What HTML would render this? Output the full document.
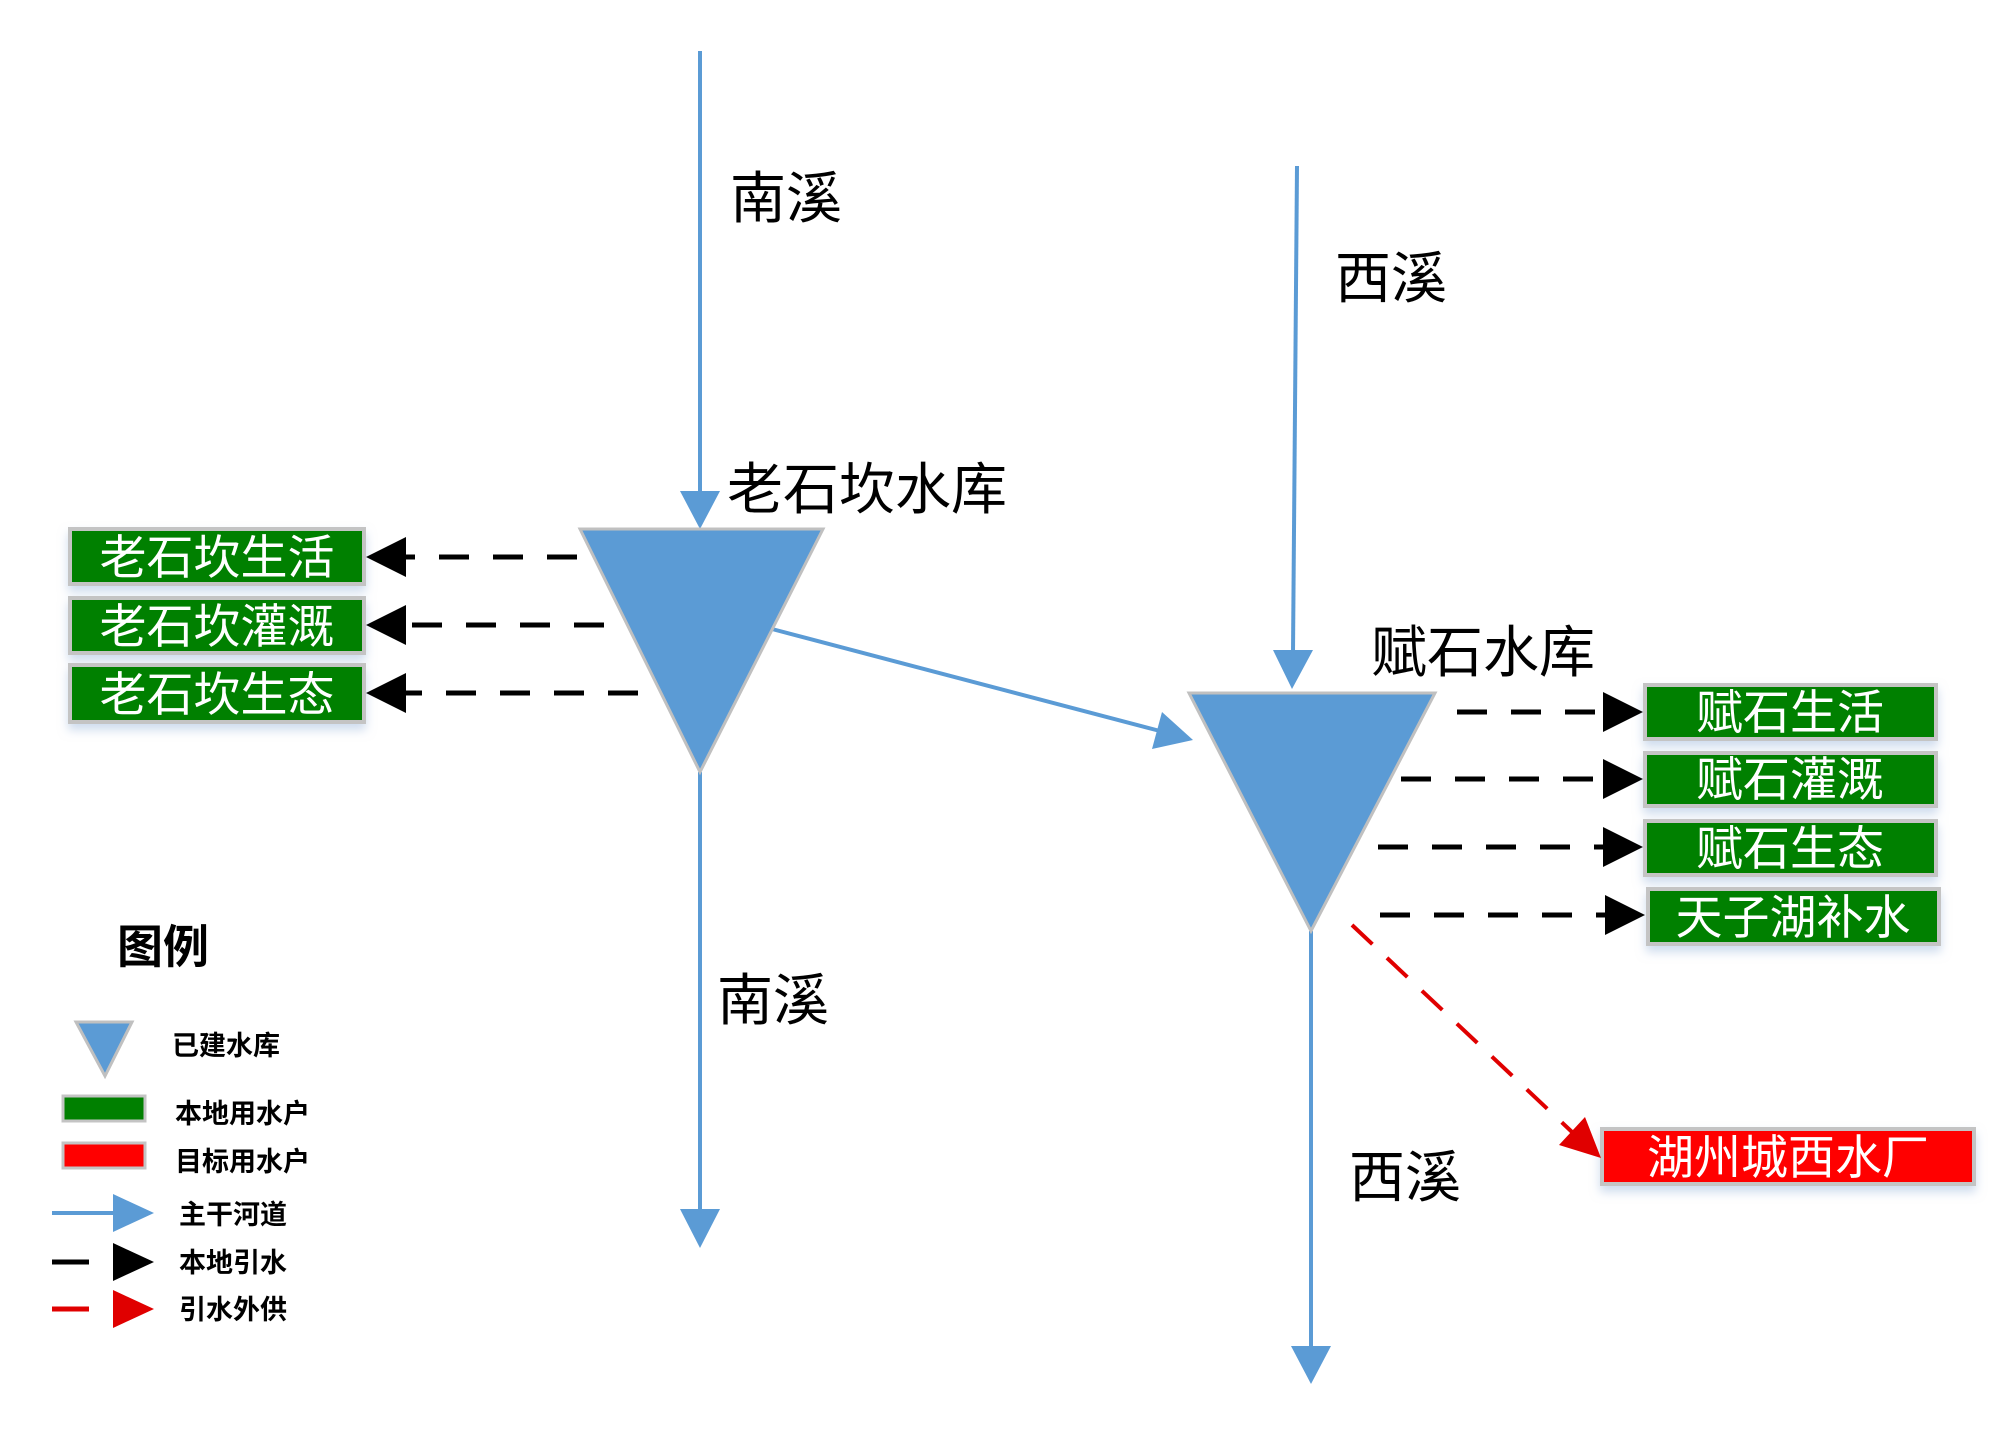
<!DOCTYPE html>
<html><head><meta charset="utf-8"><style>
html,body{margin:0;padding:0;background:#fff;}
svg{display:block;}
text{font-family:"Liberation Sans","Noto Sans CJK SC",sans-serif;}
</style></head><body>
<svg width="2000" height="1440" viewBox="0 0 2000 1440" xmlns="http://www.w3.org/2000/svg">
<defs>
<marker id="ab" viewBox="0 0 10 10" refX="10" refY="5" markerWidth="10" markerHeight="10" markerUnits="userSpaceOnUse" orient="auto"><path d="M0,0 L10,5 L0,10 z" fill="#5b9bd5"/></marker>
<filter id="sh" x="-10%" y="-20%" width="120%" height="160%"><feDropShadow dx="0" dy="6" stdDeviation="5" flood-color="#9db7dc" flood-opacity="0.5"/></filter>
</defs>

<!-- main river lines -->
<g stroke="#5b9bd5" stroke-width="4" fill="none">
<line x1="700" y1="51" x2="700" y2="495"/>
<line x1="700" y1="772" x2="700" y2="1212"/>
<line x1="1297" y1="166" x2="1293" y2="652"/>
<line x1="1311" y1="931" x2="1311" y2="1348"/>
<line x1="772" y1="629" x2="1160" y2="731"/>
</g>
<g fill="#5b9bd5">
<polygon points="680,491 720,491 700,529"/>
<polygon points="680,1209 720,1209 700,1248"/>
<polygon points="1273,650 1313,650 1292,689"/>
<polygon points="1291,1346 1331,1346 1311,1384"/>
<polygon points="1193,740 1152,749 1162,712"/>
</g>

<!-- reservoirs -->
<polygon points="580,529 823,529 700,772" fill="#5b9bd5" stroke="#c0c0c0" stroke-width="3"/>
<polygon points="1189,693 1435,693 1311,931" fill="#5b9bd5" stroke="#c0c0c0" stroke-width="3"/>

<!-- labels -->
<g font-size="56" fill="#000">
<text x="730" y="218">南溪</text>
<text x="727" y="509">老石坎水库</text>
<text x="717" y="1020">南溪</text>
<text x="1335" y="298">西溪</text>
<text x="1371" y="672">赋石水库</text>
<text x="1349" y="1197">西溪</text>
</g>

<!-- left boxes -->
<g filter="url(#sh)" stroke="#c4c4c4" stroke-width="4" fill="#008000">
<rect x="70" y="529" width="294" height="55"/>
<rect x="70" y="598" width="294" height="55"/>
<rect x="70" y="665" width="294" height="57"/>
<rect x="1645" y="685" width="291" height="54"/>
<rect x="1645" y="753" width="291" height="53"/>
<rect x="1645" y="821" width="291" height="54"/>
<rect x="1648" y="889" width="291" height="55"/>
<rect x="1602" y="1129" width="372" height="55" fill="#ff0000"/>
</g>
<g font-size="47" fill="#fff" text-anchor="middle">
<text x="217" y="574">老石坎生活</text>
<text x="217" y="643">老石坎灌溉</text>
<text x="217" y="711">老石坎生态</text>
<text x="1790" y="729">赋石生活</text>
<text x="1790" y="796">赋石灌溉</text>
<text x="1790" y="865">赋石生态</text>
<text x="1793" y="934">天子湖补水</text>
<text x="1788" y="1174">湖州城西水厂</text>
</g>

<!-- local dashed arrows -->
<g stroke="#000" stroke-width="5" stroke-dasharray="30,24" fill="none">
<line x1="577" y1="557" x2="406" y2="557"/>
<line x1="604" y1="625" x2="406" y2="625"/>
<line x1="638" y1="693" x2="406" y2="693"/>
<line x1="1457" y1="712" x2="1605" y2="712"/>
<line x1="1401" y1="779" x2="1605" y2="779"/>
<line x1="1378" y1="847" x2="1605" y2="847"/>
<line x1="1380" y1="915" x2="1605" y2="915"/>
</g>
<g fill="#000">
<polygon points="366,557 406,537 406,577"/>
<polygon points="366,625 406,605 406,645"/>
<polygon points="366,693 406,673 406,713"/>
<polygon points="1643,712 1603,692 1603,732"/>
<polygon points="1643,779 1603,759 1603,799"/>
<polygon points="1643,847 1603,827 1603,867"/>
<polygon points="1645,915 1605,895 1605,935"/>
</g>
<!-- red dashed -->
<line x1="1352" y1="925" x2="1572" y2="1132" stroke="#e00000" stroke-width="4" stroke-dasharray="28,20"/>
<polygon points="1601,1158 1559,1145 1585,1117" fill="#e00000"/>

<!-- legend -->
<text x="117" y="963" font-size="46" font-weight="bold">图例</text>
<polygon points="76,1022 132,1022 105,1076" fill="#5b9bd5" stroke="#c0c0c0" stroke-width="3"/>
<rect x="63" y="1096" width="82" height="25" fill="#008000" stroke="#c4c4c4" stroke-width="3"/>
<rect x="63" y="1143" width="82" height="25" fill="#ff0000" stroke="#c4c4c4" stroke-width="3"/>
<line x1="52" y1="1213" x2="115" y2="1213" stroke="#5b9bd5" stroke-width="4"/>
<polygon points="113,1194 154,1213 113,1232" fill="#5b9bd5"/>
<line x1="52" y1="1262" x2="89" y2="1262" stroke="#000" stroke-width="5"/>
<polygon points="113,1243 154,1262 113,1281" fill="#000"/>
<line x1="52" y1="1309" x2="89" y2="1309" stroke="#e00000" stroke-width="5"/>
<polygon points="113,1290 154,1309 113,1328" fill="#e00000"/>
<g font-size="27" font-weight="bold" fill="#000">
<text x="172" y="1055">已建水库</text>
<text x="175" y="1123">本地用水户</text>
<text x="175" y="1171">目标用水户</text>
<text x="179" y="1224">主干河道</text>
<text x="179" y="1272">本地引水</text>
<text x="179" y="1319">引水外供</text>
</g>
</svg>
</body></html>
